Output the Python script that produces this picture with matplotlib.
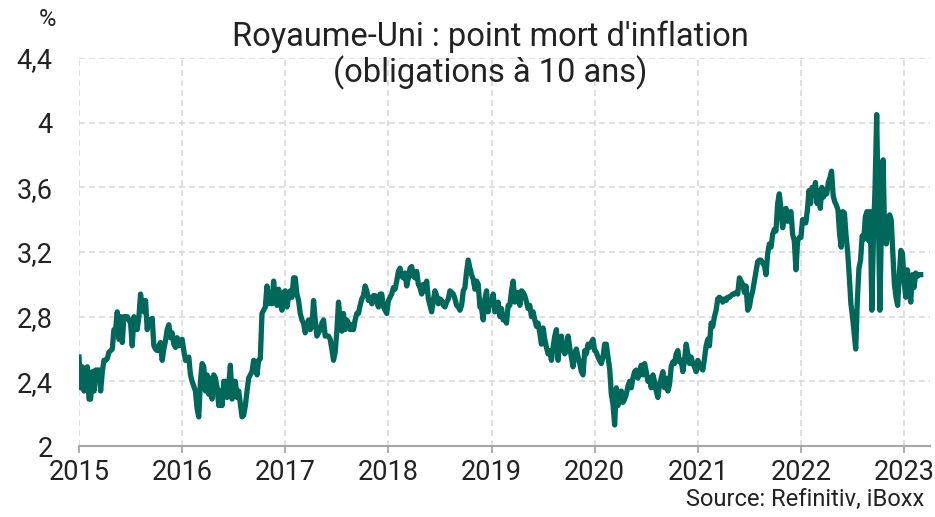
import numpy as np
import matplotlib.pyplot as plt

plt.rcParams['font.family'] = ['Roboto', 'DejaVu Sans']

# -------------------------------------------------
# données : point mort d'inflation 10 ans (%), relevé à pas régulier
# -------------------------------------------------

years = [2015, 2016, 2017, 2018, 2019, 2020, 2021, 2022, 2023]

v2015 = [2.55, 2.36, 2.49, 2.34, 2.42, 2.49, 2.29, 2.29, 2.46, 2.34,
         2.47, 2.47, 2.47, 2.34, 2.46, 2.53, 2.53, 2.54, 2.58, 2.59,
         2.60, 2.72, 2.72, 2.83, 2.66, 2.80, 2.64, 2.80, 2.80, 2.80,
         2.78, 2.76, 2.62, 2.80, 2.76, 2.72, 2.80, 2.94, 2.86, 2.83,
         2.90, 2.72, 2.78, 2.76, 2.79, 2.62, 2.60, 2.59, 2.62, 2.64,
         2.53, 2.60, 2.65, 2.72, 2.75, 2.67, 2.70, 2.63, 2.61, 2.67,
         2.62, 2.63]
v2016 = [2.66, 2.59, 2.53, 2.54, 2.55, 2.44, 2.40, 2.37, 2.34, 2.23,
         2.18, 2.40, 2.51, 2.49, 2.34, 2.44, 2.32, 2.42, 2.29, 2.44,
         2.42, 2.36, 2.25, 2.34, 2.25, 2.40, 2.40, 2.30, 2.38, 2.50,
         2.29, 2.40, 2.40, 2.30, 2.34, 2.26, 2.18, 2.19, 2.25, 2.34,
         2.42, 2.44, 2.46, 2.53, 2.51, 2.44, 2.53, 2.54, 2.82, 2.84,
         2.86, 2.99, 2.88, 2.95, 2.88, 3.02, 2.91, 2.87, 2.97, 2.89,
         2.84, 2.95]
v2017 = [2.96, 2.86, 2.92, 2.96, 2.92, 3.04, 3.04, 2.94, 2.90, 2.82,
         2.78, 2.76, 2.70, 2.75, 2.78, 2.72, 2.74, 2.90, 2.78, 2.68,
         2.70, 2.72, 2.76, 2.78, 2.68, 2.68, 2.68, 2.66, 2.60, 2.53,
         2.58, 2.71, 2.89, 2.78, 2.71, 2.82, 2.72, 2.78, 2.76, 2.72,
         2.75, 2.72, 2.78, 2.82, 2.82, 2.87, 2.91, 2.93, 2.99, 2.96,
         2.90, 2.92, 2.88, 2.93, 2.93, 2.89, 2.86, 2.94, 2.94, 2.86,
         2.84, 2.82]
v2018 = [2.90, 2.92, 2.94, 2.98, 2.97, 3.02, 3.08, 3.10, 3.05, 3.04,
         3.07, 2.99, 3.04, 3.10, 3.11, 3.05, 3.04, 3.08, 3.00, 2.98,
         2.94, 3.00, 2.96, 3.02, 2.91, 2.87, 2.83, 2.90, 2.96, 2.93,
         2.88, 2.91, 2.90, 2.87, 2.86, 2.89, 2.91, 2.96, 2.95, 2.94,
         2.91, 2.87, 2.86, 2.84, 2.87, 2.96, 2.98, 3.08, 3.15, 3.10,
         3.06, 3.03, 2.97, 3.02, 3.00, 2.86, 2.85, 2.78, 2.91, 2.96,
         2.83, 2.90]
v2019 = [2.89, 2.94, 2.83, 2.85, 2.89, 2.80, 2.85, 2.78, 2.80, 2.76,
         2.87, 2.87, 2.96, 3.02, 2.89, 2.93, 2.95, 2.87, 2.96, 2.95,
         2.93, 2.89, 2.85, 2.87, 2.80, 2.83, 2.78, 2.74, 2.76, 2.70,
         2.63, 2.73, 2.66, 2.61, 2.57, 2.59, 2.53, 2.61, 2.68, 2.72,
         2.53, 2.65, 2.68, 2.61, 2.57, 2.59, 2.68, 2.61, 2.55, 2.49,
         2.57, 2.60, 2.55, 2.51, 2.46, 2.44, 2.59, 2.57, 2.63, 2.61,
         2.64, 2.66]
v2020 = [2.59, 2.58, 2.55, 2.53, 2.51, 2.55, 2.63, 2.63, 2.55, 2.48,
         2.32, 2.26, 2.13, 2.36, 2.25, 2.32, 2.34, 2.27, 2.29, 2.32,
         2.37, 2.40, 2.36, 2.42, 2.46, 2.47, 2.42, 2.46, 2.50, 2.44,
         2.51, 2.46, 2.40, 2.42, 2.36, 2.44, 2.40, 2.34, 2.30, 2.38,
         2.42, 2.46, 2.36, 2.42, 2.34, 2.38, 2.49, 2.52, 2.51, 2.57,
         2.59, 2.52, 2.53, 2.46, 2.53, 2.63, 2.57, 2.51, 2.55, 2.51,
         2.49, 2.46]
v2021 = [2.53, 2.50, 2.48, 2.47, 2.54, 2.62, 2.66, 2.62, 2.76, 2.74,
         2.80, 2.84, 2.91, 2.92, 2.91, 2.89, 2.91, 2.90, 2.92, 2.92,
         2.93, 2.94, 2.94, 2.95, 2.94, 3.04, 3.02, 3.00, 2.95, 2.99,
         2.84, 2.86, 2.92, 2.96, 3.02, 3.08, 3.14, 3.15, 3.15, 3.13,
         3.12, 3.06, 3.19, 3.25, 3.23, 3.31, 3.34, 3.33, 3.50, 3.56,
         3.47, 3.35, 3.41, 3.47, 3.39, 3.43, 3.45, 3.31, 3.27, 3.09,
         3.27, 3.29]
v2022 = [3.29, 3.40, 3.40, 3.38, 3.46, 3.58, 3.50, 3.60, 3.55, 3.63,
         3.50, 3.58, 3.47, 3.60, 3.54, 3.57, 3.56, 3.63, 3.66, 3.70,
         3.55, 3.51, 3.49, 3.46, 3.31, 3.23, 3.45, 3.44, 3.30, 3.20,
         3.05, 2.88, 2.80, 2.70, 2.60, 2.90, 3.10, 3.15, 3.30, 3.28,
         3.42, 3.45, 3.27, 3.45, 2.84, 3.30, 3.60, 4.05, 3.45, 2.84,
         3.40, 3.77, 3.27, 3.25, 3.33, 3.43, 3.40, 3.20, 3.00, 2.92,
         2.87, 3.05, 3.21, 3.19]
v2023 = [3.02, 2.92, 3.09, 2.98, 2.89, 3.06, 2.98, 3.07, 3.05, 3.06,
         3.06]

yearly = [v2015, v2016, v2017, v2018, v2019, v2020, v2021, v2022, v2023]
y_ticks = [2, 2.4, 2.8, 3.2, 3.6, 4, 4.4]
y_labels = ["2", "2,4", "2,8", "3,2", "3,6", "4", "4,4"]

# -------------------------------------------------
# axe de temps (années décimales)
# -------------------------------------------------

t = []
v = []
for yr, vals in zip(years, yearly):
    n = max(len(vals), 62)
    for i, val in enumerate(vals):
        t.append(yr + i / n)
        v.append(val)

# -------------------------------------------------
# plot
# -------------------------------------------------

fig = plt.figure(figsize=(9.35, 5.17), dpi=100)
ax = fig.add_axes([0.0845, 0.1373, 0.910, 0.7505])

ax.plot(t, v, color="#00685b", lw=3.8, zorder=3)

ax.set_xlim(2015, 2023.25)
ax.set_ylim(2, 4.4)
ax.set_xticks(years)
ax.set_xticklabels([str(y) for y in years])
ax.set_yticks(y_ticks)
ax.set_yticklabels(y_labels)

ax.grid(True, color="#d9d9d9", linestyle=(0, (3.5, 2.5)), linewidth=1.2, zorder=0)
ax.set_axisbelow(True)

for s in ["top", "right", "left"]:
    ax.spines[s].set_visible(False)
ax.spines["bottom"].set_color("#a6a6a6")
ax.spines["bottom"].set_linewidth(1.5)

ax.tick_params(axis="x", colors="#a6a6a6", length=5, width=1.3, pad=4,
               labelsize=19.5, labelcolor="#222222")
ax.tick_params(axis="y", length=0, pad=19, labelsize=19.5, labelcolor="#222222")

fig.text(0.051, 0.962, "%", ha="center", va="center", fontsize=17, color="#222222")
fig.text(0.524, 0.893, "Royaume-Uni : point mort d'inflation\n(obligations à 10 ans)",
         ha="center", va="center", fontsize=23.5, linespacing=1.1, color="#222222")
fig.text(0.989, 0.033, "Source: Refinitiv, iBoxx", ha="right", va="center",
         fontsize=17, color="#222222")

fig.savefig("out.png", dpi=100)
